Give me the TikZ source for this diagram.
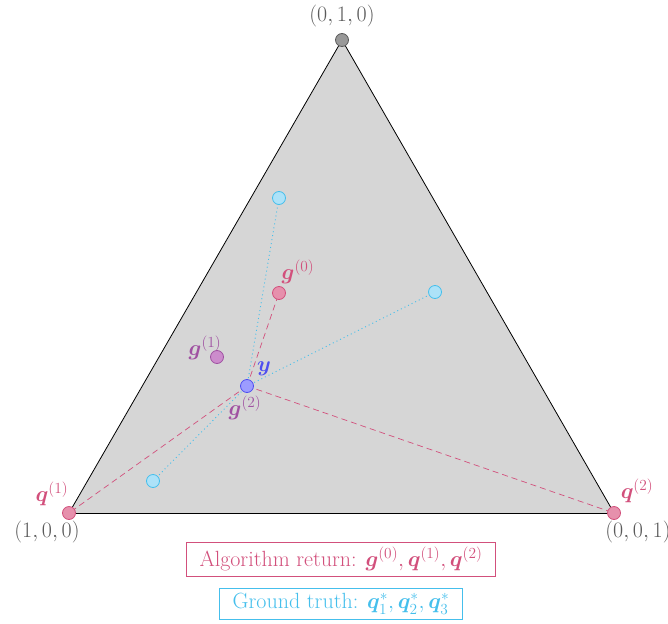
\RequirePackage{fix-cm}
\documentclass[tikz,border=0pt]{standalone}
\usepackage{amsmath}
\usepackage{bm}
\definecolor{pk}{HTML}{D2507C}
\definecolor{pkfill}{HTML}{E690AC}
\definecolor{cy}{HTML}{45BFEC}
\definecolor{cyfill}{HTML}{ADE2F8}
\definecolor{pu}{HTML}{A052A2}
\definecolor{pufill}{HTML}{CC8CCC}
\definecolor{bl}{HTML}{4F4FF0}
\definecolor{blfill}{HTML}{9C9CFF}
\definecolor{gr}{HTML}{5A5A5A}
\definecolor{tri}{HTML}{D6D6D6}
\tikzset{
  pt/.style={circle,draw,line width=0.8pt,minimum size=13pt,inner sep=0pt},
  lbl/.style={font=\fontsize{22}{26}\selectfont,inner sep=1pt},
  legend/.style={lbl,line width=0.6pt,inner xsep=13pt,inner ysep=5pt},
  dsh/.style={pk,line width=0.7pt,dash pattern=on 6pt off 4pt},
  dtt/.style={cy,line width=0.9pt,dash pattern=on 1pt off 3pt},
}
\begin{document}
\begin{tikzpicture}[x=1pt,y=-1pt]
\useasboundingbox (0,0) rectangle (668,623);
\coordinate (A) at (69,513);
\coordinate (B) at (342,40);
\coordinate (C) at (614,513);
\fill[tri] (A) -- (B) -- (C) -- cycle;
\draw[black,line width=0.8pt] (A) -- (B) -- (C);
\draw[black,line width=0.8pt] (A) -- (C);
\coordinate (Y) at (247,386);
\coordinate (G0) at (279,293);
\coordinate (S1) at (279,198);
\coordinate (S2) at (435,292);
\coordinate (S3) at (153,481);
% connectors
\draw[dsh] (Y) -- (G0);
\draw[dsh] (Y) -- (A);
\draw[dsh] (Y) -- (C);
\draw[dtt] (Y) -- (S1);
\draw[dtt] (Y) -- (S2);
\draw[dtt] (Y) -- (S3);
% points
\node[pt,draw=gr,fill=gray!80] (top) at (B) {};
\node[pt,draw=pk,fill=pkfill] (q1) at (A) {};
\node[pt,draw=pk,fill=pkfill] (q2) at (C) {};
\node[pt,draw=pk,fill=pkfill] (g0) at (G0) {};
\node[pt,draw=pu,fill=pufill] (g1) at (217,357) {};
\node[pt,draw=cy,fill=cyfill] (s1) at (S1) {};
\node[pt,draw=cy,fill=cyfill] (s2) at (S2) {};
\node[pt,draw=cy,fill=cyfill] (s3) at (S3) {};
\node[pt,draw=bl,fill=blfill] (y) at (Y) {};
% labels
\node[lbl,text=gr] (l010) at (342,16) {$(0,1,0)$};
\node[lbl,text=gr] (l100) at (47,532) {$(1,0,0)$};
\node[lbl,text=gr] (l001) at (638,532) {$(0,0,1)$};
\node[lbl,text=pk] (lq1) at (52,494) {$\bm{q}^{(1)}$};
\node[lbl,text=pk] (lq2) at (637,491) {$\bm{q}^{(2)}$};
\node[lbl,text=pk] (lg0) at (298,272) {$\bm{g}^{(0)}$};
\node[lbl,text=pu] (lg1) at (205,348) {$\bm{g}^{(1)}$};
\node[lbl,text=bl] (ly) at (264,369) {$\bm{y}$};
\node[lbl,text=pu] (lg2) at (245,408) {$\bm{g}^{(2)}$};
\node[legend,text=pk,draw=pk] (alg) at (341,559) {Algorithm return: $\bm{g}^{(0)},\bm{q}^{(1)},\bm{q}^{(2)}$};
\node[legend,text=cy,draw=cy,anchor=north] (gt) at (341,588) {Ground truth: $\bm{q}^{*}_{1},\bm{q}^{*}_{2},\bm{q}^{*}_{3}$};
\end{tikzpicture}
\end{document}
